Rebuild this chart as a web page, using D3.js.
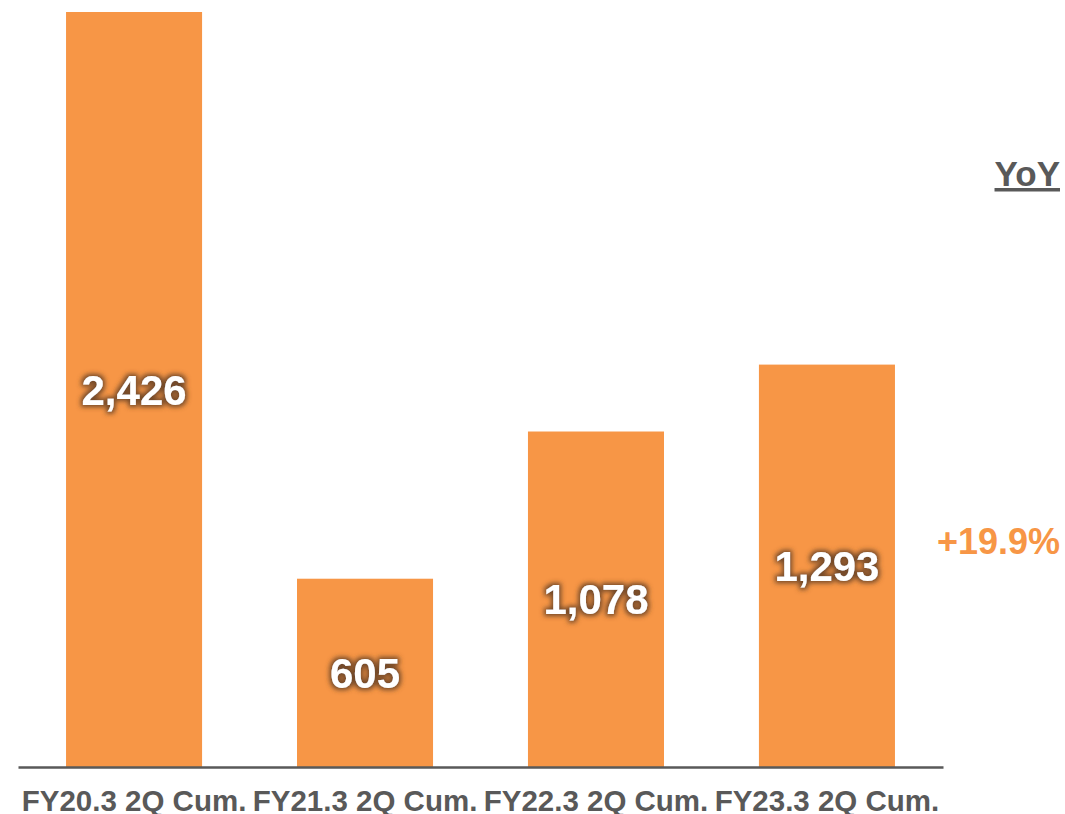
<!DOCTYPE html>
<html>
<head>
<meta charset="utf-8">
<script src="https://cdn.jsdelivr.net/npm/d3@7"></script>
<style>
  body { margin: 0; background: #fff; }
  text { font-family: "Liberation Sans", Arial, sans-serif; font-weight: bold; }
</style>
</head>
<body>
<div id="chart"></div>
<script>
// Data
const categories = ["FY20.3 2Q Cum.", "FY21.3 2Q Cum.", "FY22.3 2Q Cum.", "FY23.3 2Q Cum."];
const values = [2426, 605, 1078, 1293];
const yoyLabel = "+19.9%";

const W = 1065, H = 814;
const orange = "#F79646", gray = "#595959";

const svg = d3.select("#chart").append("svg")
    .attr("width", W)
    .attr("height", H);

// Glow shadow for the value labels
const defs = svg.append("defs");
const f = defs.append("filter").attr("id", "glow")
    .attr("x", "-20%").attr("y", "-30%").attr("width", "140%").attr("height", "160%");
f.append("feMorphology").attr("in", "SourceAlpha").attr("operator", "dilate").attr("radius", 1.5).attr("result", "d");
f.append("feGaussianBlur").attr("in", "d").attr("stdDeviation", 2.6).attr("result", "b");
f.append("feFlood").attr("flood-color", "#6b4426").attr("flood-opacity", 0.95);
f.append("feComposite").attr("in2", "b").attr("operator", "in").attr("result", "s");
const fm = f.append("feMerge");
fm.append("feMergeNode").attr("in", "s");
fm.append("feMergeNode").attr("in", "SourceGraphic");

// Scales
const x = d3.scaleBand()
    .domain(categories)
    .range([18, 943])
    .paddingInner(0.411)
    .paddingOuter(0.208);

const y = d3.scaleLinear()
    .domain([0, d3.max(values)])
    .range([767, 12]);

// Bars
svg.selectAll(".bar")
    .data(values)
  .enter().append("rect")
    .attr("class", "bar")
    .attr("x", (d, i) => x(categories[i]))
    .attr("y", d => y(d))
    .attr("width", x.bandwidth())
    .attr("height", d => y(0) - y(d))
    .style("fill", orange);

// Value labels
svg.selectAll(".val")
    .data(values)
  .enter().append("text")
    .attr("class", "val")
    .attr("x", (d, i) => x(categories[i]) + x.bandwidth() / 2)
    .attr("y", d => (y(d) + y(0)) / 2)
    .attr("dy", "0.36em")
    .attr("text-anchor", "middle")
    .attr("filter", "url(#glow)")
    .style("font-size", "42px")
    .style("fill", "#fff")
    .text(d => d3.format(",")(d));

// Axis
const axis = svg.append("g")
    .attr("transform", "translate(0," + y(0) + ")")
    .call(d3.axisBottom(x).tickSize(0).tickPadding(0));
axis.select(".domain")
    .attr("stroke", gray)
    .attr("stroke-width", 2.5);
axis.selectAll(".tick text")
    .attr("y", 44)
    .attr("dy", 0)
    .style("font-size", "29.5px")
    .style("font-family", "'Liberation Sans', Arial, sans-serif")
    .style("font-weight", "bold")
    .style("fill", gray);

// YoY header and value
svg.append("text")
    .attr("x", 1060)
    .attr("y", 186)
    .attr("text-anchor", "end")
    .style("font-size", "35px")
    .style("fill", gray)
    .style("text-decoration", "underline")
    .text("YoY");

svg.append("text")
    .attr("x", 1060)
    .attr("y", 554)
    .attr("text-anchor", "end")
    .style("font-size", "36px")
    .style("fill", orange)
    .text(yoyLabel);
</script>
</body>
</html>
